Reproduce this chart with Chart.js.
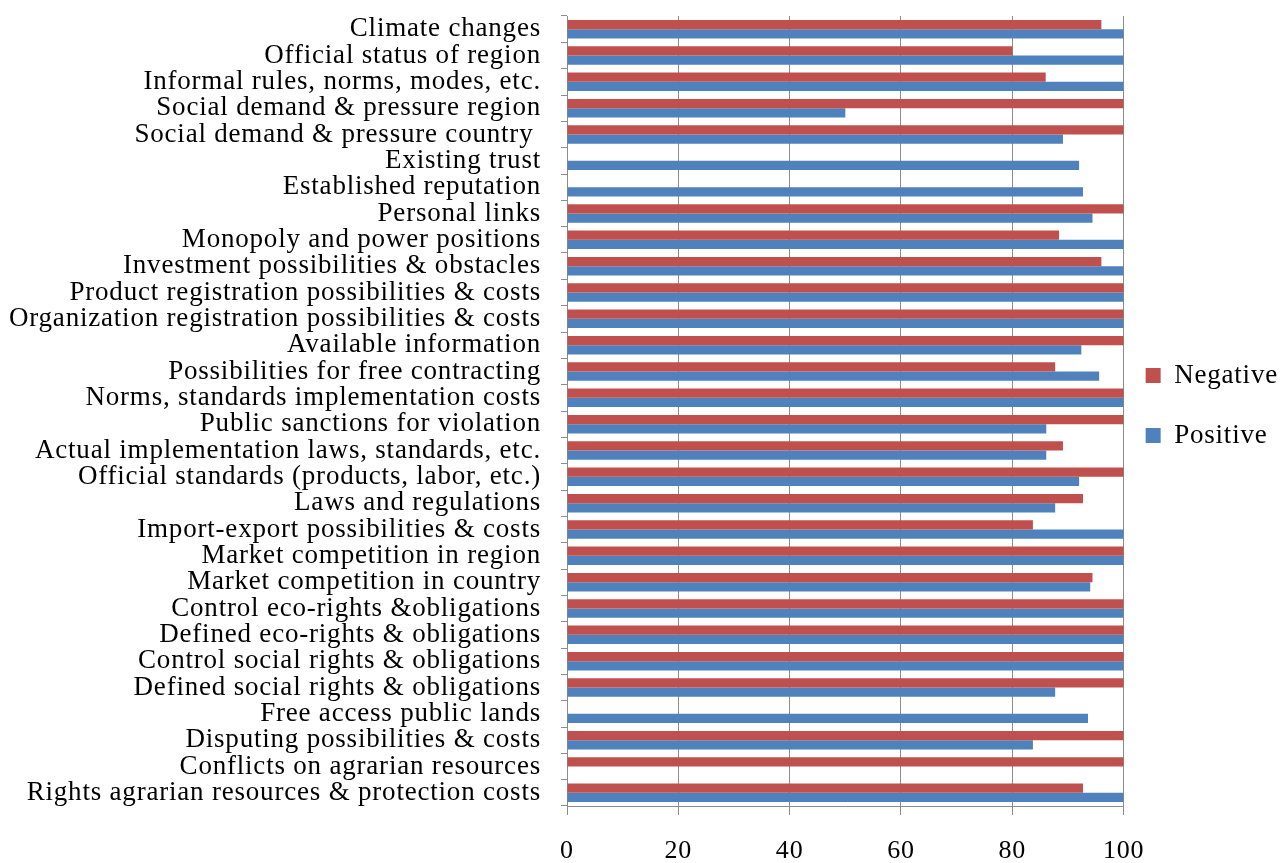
<!DOCTYPE html>
<html>
<head>
<meta charset="utf-8">
<script src="https://cdn.jsdelivr.net/npm/chart.js@4/dist/chart.umd.min.js"></script>
<style>
  html, body { margin: 0; padding: 0; background: #fff; }
  #wrap { width: 1288px; height: 863px; }
</style>
</head>
<body>
<div id="wrap"><canvas id="graph"></canvas></div>
<script>
// categories, top to bottom as in the figure
const categories = [
    'Climate changes',
    'Official status of region',
    'Informal rules, norms, modes, etc.',
    'Social demand & pressure region',
    'Social demand & pressure country ',
    'Existing trust',
    'Established reputation',
    'Personal links',
    'Monopoly and power positions',
    'Investment possibilities & obstacles',
    'Product registration possibilities & costs',
    'Organization registration possibilities & costs',
    'Available information',
    'Possibilities for free contracting',
    'Norms, standards implementation costs',
    'Public sanctions for violation',
    'Actual implementation laws, standards, etc.',
    'Official standards (products, labor, etc.)',
    'Laws and regulations',
    'Import-export possibilities & costs',
    'Market competition in region',
    'Market competition in country',
    'Control eco-rights &obligations',
    'Defined eco-rights & obligations',
    'Control social rights & obligations',
    'Defined social rights & obligations',
    'Free access public lands',
    'Disputing possibilities & costs',
    'Conflicts on agrarian resources',
    'Rights agrarian resources & protection costs'
];

const negative = [96, 80, 86, 100, 100, 0, 0, 100, 88.4, 96, 100, 100, 100, 87.7, 100,
                  100, 89.1, 100, 92.7, 83.7, 100, 94.4, 100, 100, 100, 100, 0, 100, 100, 92.7];
const positive = [100, 100, 100, 50, 89.1, 92, 92.7, 94.4, 100, 100, 100, 100, 92.4, 95.6, 100,
                  86.1, 86.1, 92, 87.7, 100, 100, 94, 100, 100, 100, 87.7, 93.6, 83.7, 0, 100];

const xTicks = [0, 20, 40, 60, 80, 100];

const serif = 'Liberation Serif, Times New Roman, serif';
const gridGrey = '#8c8c8c';

// the source text is slightly letter-spaced
const spacing = {
    id: 'spacing',
    beforeLayout: (chart) => { chart.ctx.letterSpacing = '0.8px'; },
    beforeDraw: (chart) => { chart.ctx.letterSpacing = '0.8px'; }
};

const ctx = document.getElementById('graph').getContext('2d');
const chart = new Chart(ctx, {
    type: 'bar',
    data: {
        labels: categories,
        datasets: [{
            label: 'Negative',
            data: negative,
            backgroundColor: '#C0504D',
            borderWidth: 0,
            categoryPercentage: 0.7,
            barPercentage: 1
        }, {
            label: 'Positive',
            data: positive,
            backgroundColor: '#4F81BD',
            borderWidth: 0,
            categoryPercentage: 0.7,
            barPercentage: 1
        }]
    },
    plugins: [spacing],
    options: {
        indexAxis: 'y',
        responsive: true,
        maintainAspectRatio: false,
        animation: false,
        layout: {
            padding: { top: 16, right: 0, bottom: 0, left: 0 }
        },
        plugins: {
            tooltip: { enabled: false },
            legend: {
                position: 'right',
                fullSize: false,
                labels: {
                    boxWidth: 15,
                    boxHeight: 15,
                    padding: 22,
                    color: '#000',
                    font: { family: serif, size: 27, lineHeight: 1.407 },
                    // array text makes the legend use the font line height per row
                    generateLabels: (c) => Chart.defaults.plugins.legend.labels.generateLabels(c)
                        .map(item => Object.assign(item, { text: [item.text] }))
                }
            }
        },
        scales: {
            x: {
                min: 0,
                max: 100,
                afterBuildTicks: (scale) => {
                    scale.ticks = xTicks.map(v => ({ value: v }));
                },
                afterFit: (scale) => { scale.height = 57; },
                grid: {
                    color: gridGrey,
                    lineWidth: 1,
                    drawTicks: true,
                    tickLength: 9
                },
                border: { color: gridGrey },
                ticks: {
                    color: '#000',
                    padding: 21,
                    font: { family: serif, size: 26 }
                }
            },
            y: {
                afterFit: (scale) => {
                    scale.width = 567;
                    scale.paddingTop = 0;
                    scale.paddingBottom = 0;
                },
                grid: {
                    color: gridGrey,
                    drawOnChartArea: false,
                    drawTicks: true,
                    tickLength: 6
                },
                border: { color: gridGrey },
                ticks: {
                    color: '#000',
                    padding: 20,
                    autoSkip: false,
                    font: { family: serif, size: 27 }
                }
            }
        }
    }
});
</script>
</body>
</html>
